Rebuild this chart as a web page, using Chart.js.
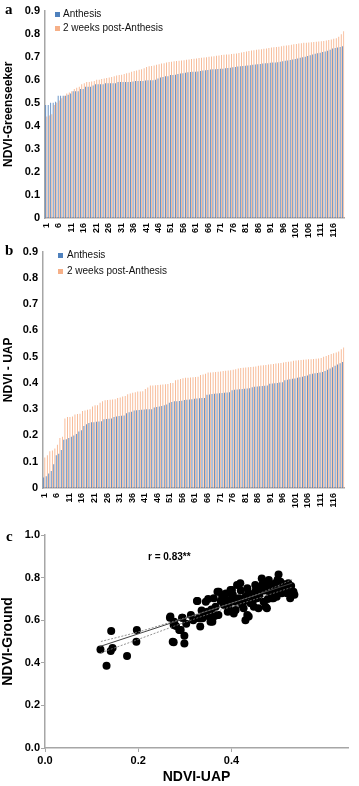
<!DOCTYPE html>
<html>
<head>
<meta charset="utf-8">
<script src="https://cdn.jsdelivr.net/npm/chart.js@4.4.0/dist/chart.umd.min.js"></script>
<style>
  html,body{margin:0;padding:0;background:#fff;}
  body{width:359px;height:786px;position:relative;overflow:hidden;font-family:Arial,"Liberation Sans",sans-serif;}
  .box{position:absolute;left:0;width:359px;}
  .letter{position:absolute;font-family:"Liberation Serif","DejaVu Serif",serif;font-weight:bold;font-size:15px;line-height:15px;color:#000;}
  .sq{position:absolute;width:5px;height:5px;}
  .lt{position:absolute;font-size:10px;line-height:12px;color:#111;white-space:nowrap;}
  .rt{position:absolute;font-size:10px;line-height:12px;font-weight:bold;color:#000;white-space:nowrap;}
</style>
</head>
<body>
<div class="box" style="top:-1px;height:246px;"><canvas id="ca"></canvas></div>
<div class="box" style="top:240px;height:275px;"><canvas id="cb"></canvas></div>
<div class="box" style="top:520px;height:266px;"><canvas id="cc"></canvas></div>

<div class="letter" style="left:5px;top:2px;">a</div>
<div class="letter" style="left:5px;top:243px;">b</div>
<div class="letter" style="left:6px;top:529px;">c</div>

<div class="sq" style="left:55px;top:12px;background:#4f81bd;"></div>
<div class="lt" style="left:63px;top:8px;">Anthesis</div>
<div class="sq" style="left:55px;top:26px;background:#f6b088;"></div>
<div class="lt" style="left:63px;top:22px;">2 weeks post-Anthesis</div>

<div class="sq" style="left:58px;top:253px;background:#4f81bd;"></div>
<div class="lt" style="left:67px;top:249px;">Anthesis</div>
<div class="sq" style="left:58px;top:269px;background:#f6b088;"></div>
<div class="lt" style="left:67px;top:265px;">2 weeks post-Anthesis</div>

<div class="rt" style="left:148px;top:551px;">r = 0.83**</div>

<script>
// ---------- DATA ----------
// genotype index (1..120), sorted by value within each series
const categories = Array.from({length:120}, (_, i) => String(i + 1));

const greenseekerAnthesis = [
 0.49,0.49,0.50,0.50,0.505,0.53,0.53,0.53,0.53,0.535,
 0.54,0.55,0.55,0.55,0.56,0.56,0.57,0.57,0.57,0.575,
 0.58,0.58,0.58,0.58,0.585,0.585,0.585,0.585,0.585,0.59,
 0.59,0.59,0.59,0.59,0.59,0.592,0.595,0.595,0.595,0.595,
 0.597,0.598,0.598,0.598,0.60,0.605,0.61,0.612,0.615,0.615,
 0.62,0.62,0.622,0.625,0.627,0.628,0.63,0.632,0.634,0.635,
 0.635,0.636,0.638,0.64,0.641,0.642,0.644,0.645,0.646,0.647,
 0.648,0.648,0.65,0.651,0.652,0.654,0.655,0.657,0.658,0.66,
 0.661,0.662,0.663,0.665,0.666,0.667,0.668,0.67,0.671,0.672,
 0.674,0.675,0.675,0.676,0.678,0.68,0.682,0.684,0.686,0.688,
 0.69,0.692,0.695,0.698,0.70,0.703,0.706,0.71,0.713,0.715,
 0.717,0.72,0.722,0.726,0.73,0.735,0.738,0.74,0.742,0.745
];
const greenseekerPost = [
 0.44,0.445,0.45,0.49,0.50,0.51,0.52,0.53,0.54,0.545,
 0.55,0.56,0.565,0.57,0.58,0.585,0.59,0.59,0.592,0.595,
 0.60,0.60,0.603,0.605,0.608,0.61,0.612,0.615,0.618,0.62,
 0.622,0.625,0.628,0.63,0.635,0.638,0.64,0.643,0.646,0.65,
 0.655,0.658,0.66,0.662,0.665,0.667,0.67,0.672,0.675,0.677,
 0.678,0.68,0.681,0.682,0.684,0.685,0.687,0.688,0.69,0.691,
 0.692,0.694,0.695,0.697,0.698,0.70,0.701,0.702,0.704,0.705,
 0.707,0.708,0.709,0.71,0.712,0.713,0.714,0.716,0.718,0.72,
 0.722,0.725,0.727,0.728,0.73,0.731,0.732,0.734,0.736,0.738,
 0.74,0.741,0.742,0.743,0.745,0.747,0.749,0.75,0.752,0.754,
 0.755,0.757,0.758,0.76,0.761,0.762,0.763,0.764,0.765,0.766,
 0.767,0.768,0.77,0.772,0.775,0.778,0.78,0.787,0.797,0.81
];
const uapAnthesis = [
 0.04,0.045,0.055,0.065,0.09,0.125,0.13,0.145,0.184,0.186,
 0.19,0.195,0.2,0.206,0.215,0.22,0.236,0.243,0.247,0.25,
 0.25,0.252,0.253,0.254,0.262,0.263,0.264,0.265,0.27,0.272,
 0.274,0.275,0.276,0.285,0.288,0.29,0.295,0.296,0.297,0.298,
 0.299,0.30,0.30,0.30,0.306,0.308,0.31,0.312,0.315,0.318,
 0.325,0.327,0.33,0.33,0.331,0.332,0.335,0.336,0.337,0.338,
 0.34,0.341,0.342,0.343,0.343,0.355,0.356,0.358,0.359,0.36,
 0.361,0.362,0.363,0.364,0.365,0.372,0.374,0.375,0.376,0.377,
 0.378,0.379,0.38,0.384,0.385,0.386,0.387,0.388,0.389,0.39,
 0.397,0.398,0.399,0.40,0.402,0.403,0.41,0.412,0.414,0.416,
 0.417,0.42,0.422,0.424,0.426,0.428,0.433,0.435,0.437,0.438,
 0.44,0.442,0.445,0.45,0.455,0.46,0.465,0.47,0.475,0.48
];
const uapPost = [
 0.116,0.125,0.14,0.143,0.15,0.165,0.19,0.195,0.265,0.27,
 0.27,0.272,0.28,0.282,0.283,0.293,0.295,0.298,0.30,0.31,
 0.315,0.315,0.325,0.33,0.334,0.335,0.336,0.337,0.338,0.343,
 0.345,0.348,0.35,0.357,0.36,0.363,0.365,0.367,0.367,0.368,
 0.377,0.383,0.39,0.39,0.391,0.392,0.393,0.394,0.395,0.396,
 0.40,0.40,0.41,0.412,0.415,0.418,0.42,0.42,0.421,0.422,
 0.423,0.424,0.43,0.432,0.435,0.44,0.44,0.441,0.442,0.443,
 0.444,0.445,0.446,0.447,0.448,0.45,0.452,0.455,0.457,0.458,
 0.459,0.46,0.461,0.462,0.463,0.465,0.466,0.467,0.468,0.47,
 0.471,0.472,0.474,0.475,0.476,0.478,0.48,0.481,0.482,0.484,
 0.485,0.486,0.487,0.488,0.489,0.49,0.49,0.491,0.492,0.493,
 0.495,0.50,0.503,0.506,0.51,0.513,0.516,0.52,0.528,0.535
];

// scatter: NDVI-UAP (x) vs NDVI-Ground (y)
const scatterX = [
 0.119,0.132,0.141,0.142,0.145,0.176,0.196,0.197,0.268,0.274,
 0.277,0.281,0.288,0.269,0.276,0.290,0.295,0.299,0.299,0.276,
 0.313,0.326,0.333,0.338,0.345,0.348,0.352,0.355,0.362,0.366,
 0.370,0.370,0.380,0.384,0.394,0.398,0.402,0.405,0.409,0.412,
 0.416,0.419,0.423,0.430,0.434,0.437,0.441,0.444,0.448,0.451,
 0.455,0.458,0.462,0.465,0.469,0.473,0.476,0.480,0.483,0.490,
 0.494,0.497,0.501,0.505,0.508,0.512,0.519,0.526,0.522,0.497,
 0.476,0.434,0.409,0.391,0.330,0.341,0.359,0.373,0.401,0.426,
 0.487,0.515,0.533,0.327,0.291,0.294,0.372,0.384,0.458,0.444,
 0.303,0.318,0.336,0.350,0.357,0.364,0.377,0.388,0.395,0.403,
 0.413,0.420,0.428,0.436,0.446,0.452,0.460,0.467,0.471,0.478,
 0.485,0.492,0.499,0.504,0.510,0.517,0.528,0.535,0.430,0.392
];
const scatterY = [
 0.463,0.386,0.455,0.549,0.469,0.432,0.499,0.554,0.612,0.499,
 0.593,0.573,0.554,0.617,0.577,0.554,0.612,0.527,0.491,0.496,
 0.624,0.690,0.570,0.609,0.687,0.640,0.617,0.593,0.703,0.663,
 0.734,0.624,0.710,0.671,0.656,0.742,0.703,0.632,0.687,0.765,
 0.703,0.773,0.671,0.710,0.750,0.617,0.679,0.718,0.663,0.765,
 0.703,0.656,0.750,0.796,0.687,0.663,0.757,0.789,0.726,0.703,
 0.773,0.742,0.815,0.781,0.726,0.750,0.726,0.703,0.773,0.710,
 0.656,0.624,0.648,0.695,0.609,0.632,0.593,0.734,0.742,0.656,
 0.703,0.765,0.734,0.690,0.554,0.612,0.624,0.718,0.734,0.710,
 0.583,0.600,0.645,0.700,0.650,0.620,0.690,0.725,0.680,0.720,
 0.700,0.740,0.690,0.730,0.690,0.740,0.720,0.770,0.740,0.700,
 0.760,0.730,0.790,0.740,0.770,0.740,0.760,0.720,0.600,0.640
];
// fitted regression line and 95% confidence band
const fitX   = [0.117, 0.530];
const fitY   = [0.476, 0.774];
const bandX  = [0.12, 0.20, 0.30, 0.38, 0.45, 0.53];
const bandHi = [0.500, 0.545, 0.611, 0.666, 0.717, 0.790];
const bandLo = [0.447, 0.510, 0.590, 0.650, 0.698, 0.755];

const barTickLabels = categories.map((c, i) => (i % 5 === 0 ? c : ''));

// ---------- CHARTS ----------
const FONT = 'Arial, "Liberation Sans", sans-serif';
const AXIS = '#a6a6a6';
const BLUE = '#4f81bd';
const ORANGE = '#f6b088';

function barChart(id, a, b, title, yWidth) {
  return new Chart(document.getElementById(id), {
    type: 'bar',
    data: {
      labels: categories,
      datasets: [
        {label: 'Anthesis', data: a, backgroundColor: BLUE, categoryPercentage: 0.9, barPercentage: 0.75},
        {label: '2 weeks post-Anthesis', data: b, backgroundColor: ORANGE, categoryPercentage: 0.9, barPercentage: 0.75}
      ]
    },
    options: {
      responsive: true, maintainAspectRatio: false, animation: false, devicePixelRatio: 1,
      layout: {padding: {top: 0, right: 4, bottom: 0, left: 0}},
      plugins: {legend: {display: false}, tooltip: {enabled: false}},
      scales: {
        x: {
          grid: {display: false, drawTicks: false},
          border: {display: true, color: AXIS, width: 1.5},
          ticks: {
            autoSkip: false, maxRotation: 90, minRotation: 90, padding: 5, color: '#000',
            font: {family: FONT, size: 9, weight: 'bold'},
            callback: (v, i) => barTickLabels[i]
          },
          afterFit: s => { s.height = 27; }
        },
        y: {
          min: 0, max: 0.9,
          grid: {display: false, drawTicks: false},
          border: {display: true, color: AXIS, width: 1.5},
          ticks: {stepSize: 0.1, padding: 5, color: '#000', font: {family: FONT, size: 11, weight: 'bold'}},
          title: {display: true, text: title, color: '#000', padding: {top: 1, bottom: 0},
                  font: {family: FONT, size: 12, weight: 'bold'}},
          afterFit: s => { s.width = yWidth; }
        }
      }
    }
  });
}

barChart('ca', greenseekerAnthesis, greenseekerPost, 'NDVI-Greenseeker', 45);
barChart('cb', uapAnthesis, uapPost, 'NDVI - UAP', 43);

const pts = scatterX.map((x, i) => ({x: x, y: scatterY[i]}));
const fit = fitX.map((x, i) => ({x: x, y: fitY[i]}));
const hi = bandX.map((x, i) => ({x: x, y: bandHi[i]}));
const lo = bandX.map((x, i) => ({x: x, y: bandLo[i]}));
const keepFifths = s => { s.ticks = s.ticks.filter(t => Math.abs(t.value * 5 - Math.round(t.value * 5)) < 1e-6); };

new Chart(document.getElementById('cc'), {
  type: 'scatter',
  data: {
    datasets: [
      {data: hi, showLine: true, borderColor: '#777', borderWidth: 0.8, borderDash: [2, 1.5], pointRadius: 0, tension: 0.3},
      {data: lo, showLine: true, borderColor: '#777', borderWidth: 0.8, borderDash: [2, 1.5], pointRadius: 0, tension: 0.3},
      {data: fit, showLine: true, borderColor: '#444', borderWidth: 1, pointRadius: 0},
      {data: pts, pointRadius: 4, pointBackgroundColor: '#000', pointBorderWidth: 0, showLine: false}
    ]
  },
  options: {
    responsive: true, maintainAspectRatio: false, animation: false, devicePixelRatio: 1,
    layout: {padding: {top: 15, right: 11, bottom: 0, left: 0}},
    plugins: {legend: {display: false}, tooltip: {enabled: false}},
    scales: {
      x: {
        type: 'linear', min: 0, max: 0.65,
        grid: {display: true, drawOnChartArea: false, drawTicks: true, tickLength: 4, color: AXIS},
        border: {display: true, color: AXIS, width: 1.5},
        ticks: {stepSize: 0.2, padding: 2, color: '#000', font: {family: FONT, size: 11, weight: 'bold'},
                callback: v => Number(v).toFixed(1)},
        afterBuildTicks: keepFifths,
        title: {display: true, text: 'NDVI-UAP', color: '#000', padding: {top: 0, bottom: 0},
                font: {family: FONT, size: 14, weight: 'bold'}},
        afterFit: s => { s.height = 38; }
      },
      y: {
        min: 0, max: 1.0,
        grid: {display: true, drawOnChartArea: false, drawTicks: true, tickLength: 4, color: AXIS},
        border: {display: true, color: AXIS, width: 1.5},
        ticks: {stepSize: 0.2, padding: 1, color: '#000', font: {family: FONT, size: 11, weight: 'bold'},
                callback: v => Number(v).toFixed(1)},
        title: {display: true, text: 'NDVI-Ground', color: '#000', padding: {top: 0, bottom: 0},
                font: {family: FONT, size: 14, weight: 'bold'}},
        afterFit: s => { s.width = 45; }
      }
    }
  }
});
</script>
</body>
</html>
